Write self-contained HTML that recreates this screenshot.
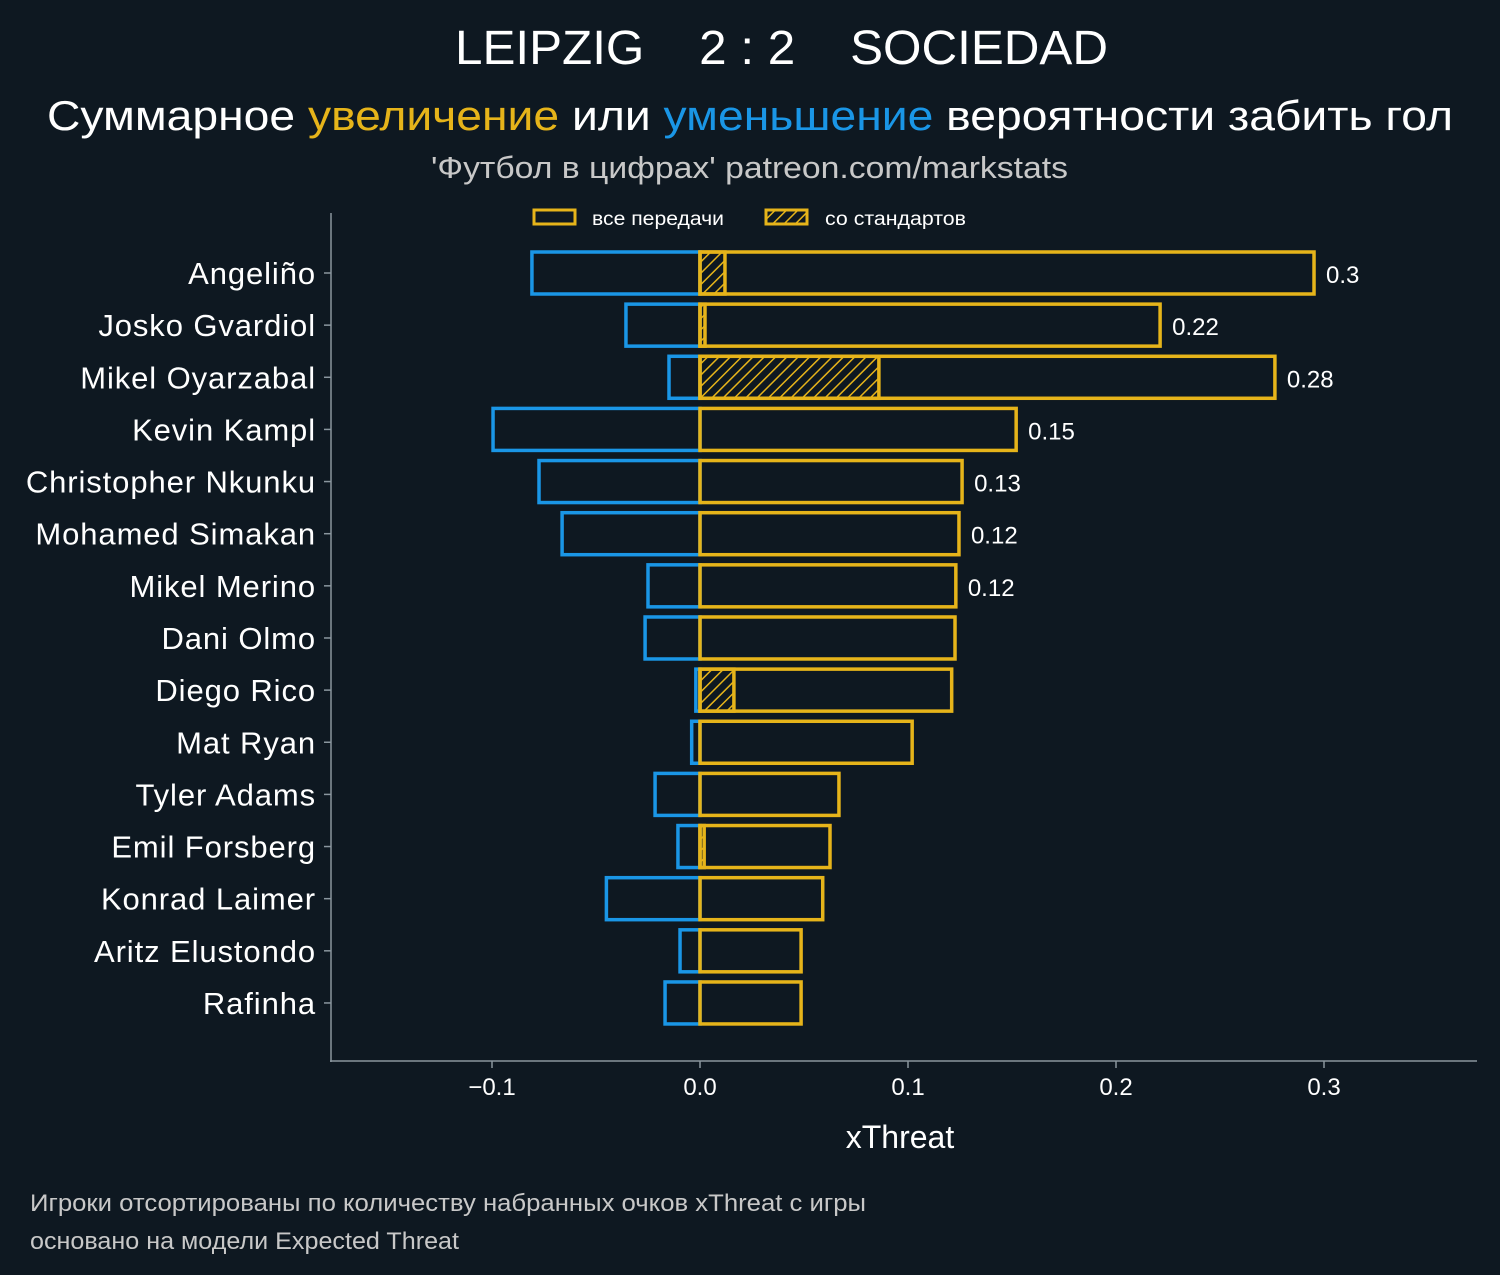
<!DOCTYPE html>
<html><head><meta charset="utf-8"><style>
html,body{margin:0;padding:0;background:#0e1821;overflow:hidden;width:1500px;height:1275px;}
svg{display:block;}
svg text{font-family:"Liberation Sans","DejaVu Sans",sans-serif;}
</style></head><body>
<svg id="chart" width="1500" height="1275" xmlns="http://www.w3.org/2000/svg">
<defs>
<pattern id="hatch" patternUnits="userSpaceOnUse" width="8" height="8" patternTransform="rotate(45)">
<line x1="0" y1="0" x2="0" y2="8" stroke="#e6b41a" stroke-width="3"/>
</pattern>
</defs>
<rect width="1500" height="1275" fill="#0e1821"/>
<text x="455" y="64" textLength="653" lengthAdjust="spacingAndGlyphs" fill="#ffffff" font-size="48" xml:space="preserve">LEIPZIG    2 : 2    SOCIEDAD</text>
<text x="47" y="130" textLength="1406" lengthAdjust="spacingAndGlyphs" fill="#ffffff" font-size="42">Суммарное <tspan fill="#e6b41a">увеличение</tspan> или <tspan fill="#1a96e6">уменьшение</tspan> вероятности забить гол</text>
<text x="431" y="178" textLength="637" lengthAdjust="spacingAndGlyphs" fill="#c8c8c8" font-size="31">'Футбол в цифрах' patreon.com/markstats</text>
<g>
<rect x="534" y="210" width="41" height="14" fill="none" stroke="#e6b41a" stroke-width="3"/>
<text x="592" y="225" textLength="132" lengthAdjust="spacingAndGlyphs" fill="#ffffff" font-size="19">все передачи</text>
<rect x="766" y="210" width="41" height="14" fill="url(#hatch)" stroke="#e6b41a" stroke-width="3"/>
<text x="825" y="225" textLength="141" lengthAdjust="spacingAndGlyphs" fill="#ffffff" font-size="19">со стандартов</text>
</g>
<line x1="331" y1="213" x2="331" y2="1062" stroke="#8a969e" stroke-width="1.5"/>
<line x1="330" y1="1061" x2="1477" y2="1061" stroke="#8a969e" stroke-width="1.5"/>
<g id="marks"></g>
<text x="900" y="1148" text-anchor="middle" fill="#ffffff" font-size="32">xThreat</text>
<text x="30" y="1211" textLength="836" lengthAdjust="spacingAndGlyphs" fill="#c8c8c8" font-size="24">Игроки отсортированы по количеству набранных очков xThreat с игры</text>
<text x="30" y="1249" textLength="429" lengthAdjust="spacingAndGlyphs" fill="#c8c8c8" font-size="24">основано на модели Expected Threat</text>
</svg>
<script>
const players = ["Angeliño","Josko Gvardiol","Mikel Oyarzabal","Kevin Kampl","Christopher Nkunku","Mohamed Simakan","Mikel Merino","Dani Olmo","Diego Rico","Mat Ryan","Tyler Adams","Emil Forsberg","Konrad Laimer","Aritz Elustondo","Rafinha"];
const positiveValues = [0.2952,0.2212,0.2764,0.152,0.126,0.1245,0.123,0.1226,0.121,0.102,0.0668,0.0625,0.059,0.0486,0.0486];
const negativeValues = [-0.0808,-0.0356,-0.0149,-0.0995,-0.0774,-0.0663,-0.025,-0.0264,-0.002,-0.004,-0.0216,-0.0106,-0.045,-0.0096,-0.0168];
const setPieceValues = [0.012,0.0024,0.086,0,0,0,0,0,0.0163,0,0,0.002,0,0,0];
const totalLabels = ["0.3","0.22","0.28","0.15","0.13","0.12","0.12","","","","","","","",""];
const xTicks = [-0.1,0,0.1,0.2,0.3];
const xTickLabels = ["−0.1","0.0","0.1","0.2","0.3"];

const NS="http://www.w3.org/2000/svg";
const g=document.getElementById('marks');
const xs=v=>700+v*2080;
const ys=i=>273+i*52.14;
const BH=42;
function mk(tag,attrs){const e=document.createElementNS(NS,tag);for(const k in attrs)e.setAttribute(k,attrs[k]);g.appendChild(e);return e;}
players.forEach((p,i)=>{
  const y=ys(i);
  const t=mk('text',{x:316,y:y+11,'text-anchor':'end',fill:'#ffffff','font-size':31,'letter-spacing':'0.9'});
  t.textContent=p;
  
  
  const tk=mk('line',{x1:324,y1:y,x2:331,y2:y,stroke:'#8a969e','stroke-width':1.5});
  
  
  const nb=mk('rect',{x:xs(negativeValues[i]),y:y-BH/2,width:xs(0)-xs(negativeValues[i]),height:BH,fill:'none',stroke:'#1a96e6','stroke-width':3.5});
  
  
  if(setPieceValues[i]>0){
    const hb=mk('rect',{x:xs(0),y:y-BH/2,width:xs(setPieceValues[i])-xs(0),height:BH,fill:'url(#hatch)',stroke:'#e6b41a','stroke-width':3.5});
    
    
  }
  const pb=mk('rect',{x:xs(0),y:y-BH/2,width:xs(positiveValues[i])-xs(0),height:BH,fill:'none',stroke:'#e6b41a','stroke-width':3.5});
  
  
  if(totalLabels[i]){
    const vl=mk('text',{x:xs(positiveValues[i])+12,y:y+10,fill:'#ffffff','font-size':24});
    vl.textContent=totalLabels[i];
    
    
  }
});
xTicks.forEach((v,i)=>{
  const l=mk('line',{x1:xs(v),y1:1061,x2:xs(v),y2:1068,stroke:'#8a969e','stroke-width':1.5});
  
  
  const t=mk('text',{x:xs(v),y:1095,'text-anchor':'middle',fill:'#ffffff','font-size':24});
  t.textContent=xTickLabels[i];
  
  
});
</script>
</body></html>
